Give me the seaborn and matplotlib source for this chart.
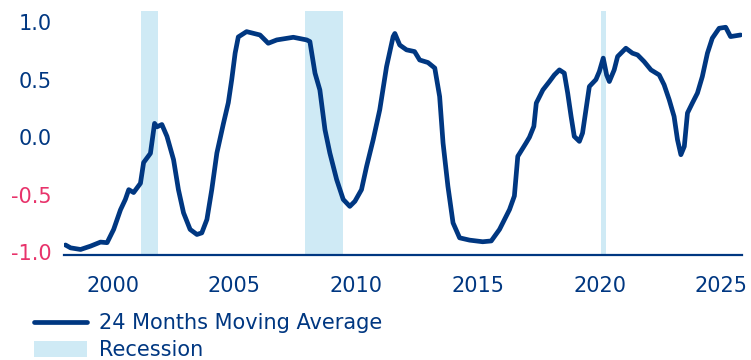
import numpy as np
import pandas as pd
import matplotlib
matplotlib.use("Agg")
import matplotlib.pyplot as plt
import seaborn as sns
from matplotlib.patches import Patch
from matplotlib.lines import Line2D

# decimal years and 24 month moving average values
years = [1998.06, 1998.27, 1998.68, 1999.09, 1999.5, 1999.77, 2000.04, 2000.32, 2000.52, 2000.66,
         2000.86, 2001.14, 2001.27, 2001.55, 2001.72, 2001.82, 2002.02, 2002.23, 2002.5, 2002.7,
         2002.91, 2003.18, 2003.46, 2003.66, 2003.87, 2004.07, 2004.28, 2004.55, 2004.75, 2004.89,
         2005.03, 2005.16, 2005.5, 2006.05, 2006.39, 2006.74, 2007.42, 2007.97, 2008.1, 2008.31,
         2008.51, 2008.72, 2008.92, 2009.2, 2009.47, 2009.74, 2009.95, 2010.22, 2010.43, 2010.7,
         2010.97, 2011.25, 2011.52, 2011.59, 2011.79, 2012.07, 2012.4, 2012.61, 2012.95, 2013.23,
         2013.43, 2013.57, 2013.77, 2013.98, 2014.25, 2014.66, 2015.2, 2015.55, 2015.89, 2016.3,
         2016.5, 2016.64, 2016.98, 2017.12, 2017.3, 2017.4, 2017.67, 2017.94, 2018.14, 2018.35,
         2018.55, 2018.69, 2018.83, 2018.96, 2019.17, 2019.3, 2019.44, 2019.58, 2019.85, 2019.99,
         2020.15, 2020.29, 2020.4, 2020.6, 2020.74, 2021.08, 2021.35, 2021.56, 2021.83, 2022.11,
         2022.45, 2022.65, 2022.86, 2023.06, 2023.2, 2023.34, 2023.48, 2023.61, 2023.81, 2024.02,
         2024.22, 2024.43, 2024.63, 2024.91, 2025.18, 2025.38, 2025.79]
values = [-0.935, -0.96, -0.974, -0.945, -0.91, -0.915, -0.80, -0.63, -0.54, -0.455,
          -0.48, -0.40, -0.22, -0.14, 0.12, 0.09, 0.11, 0.007, -0.195, -0.455,
          -0.656, -0.80, -0.844, -0.83, -0.714, -0.455, -0.137, 0.12, 0.30, 0.50,
          0.73, 0.87, 0.916, 0.887, 0.815, 0.844, 0.867, 0.844, 0.83, 0.556,
          0.41, 0.065, -0.137, -0.368, -0.54, -0.60, -0.556, -0.455, -0.253, -0.022,
          0.238, 0.613, 0.873, 0.90, 0.80, 0.758, 0.743, 0.67, 0.648, 0.60,
          0.353, -0.05, -0.426, -0.743, -0.873, -0.893, -0.907, -0.90, -0.80, -0.628,
          -0.51, -0.166, -0.05, 0.0, 0.094, 0.296, 0.41, 0.483, 0.54, 0.584,
          0.556, 0.383, 0.18, 0.007, -0.036, 0.036, 0.238, 0.44, 0.50, 0.57,
          0.686, 0.54, 0.483, 0.584, 0.70, 0.772, 0.729, 0.714, 0.656, 0.584,
          0.54, 0.455, 0.325, 0.18, -0.022, -0.152, -0.08, 0.21, 0.296, 0.383,
          0.526, 0.729, 0.859, 0.945, 0.954, 0.873, 0.887]

recession_start = [2001.18, 2007.9, 2020.07]
recession_end = [2001.87, 2009.44, 2020.25]

year_ticks = [2000, 2005, 2010, 2015, 2020, 2025]
value_ticks = [-1.0, -0.5, 0.0, 0.5, 1.0]

navy = "#003781"
light_blue = "#cfeaf5"
pink = "#e8336b"

sns.set_style("white")
plt.rcParams['font.family'] = ['DejaVu Sans']

df = pd.DataFrame({"year": years, "value": values})

fig = plt.figure(figsize=(7.51, 3.6), dpi=100)
ax = fig.add_axes([64 / 751, 105 / 360, 678 / 751, 244 / 360])

for s, e in zip(recession_start, recession_end):
    ax.axvspan(s, e, color=light_blue, lw=0, zorder=1)

sns.lineplot(data=df, x="year", y="value", ax=ax, color=navy, lw=3.4, zorder=3)

ax.set_xlim(1998.0, 2025.85)
ax.set_ylim(-1.022, 1.095)
ax.set_xticks(year_ticks)
ax.set_yticks(value_ticks)
ax.set_xticklabels([str(y) for y in year_ticks])
ax.set_yticklabels([f"{v:.1f}" for v in value_ticks])
ax.set_xlabel("")
ax.set_ylabel("")

for sp in ["top", "right", "left"]:
    ax.spines[sp].set_visible(False)
ax.spines["bottom"].set_color(navy)
ax.spines["bottom"].set_linewidth(1.6)

ax.tick_params(axis="x", direction="out", length=8, width=1.8, color=navy,
               labelcolor=navy, labelsize=15, pad=7)
ax.tick_params(axis="y", length=0, labelsize=15, pad=9, labelcolor=navy)
for lab, v in zip(ax.get_yticklabels(), value_ticks):
    lab.set_color(pink if v < 0 else navy)

handles = [Line2D([0], [0], color=navy, lw=3.4),
           Patch(facecolor=light_blue, edgecolor="none")]
labels = ["24 Months Moving Average", "Recession"]
fig.legend(handles, labels, loc="upper left", bbox_to_anchor=(34 / 751, 1 - 313 / 360),
           frameon=False, fontsize=15, labelcolor=navy, handlelength=2.55,
           handleheight=0.75, handletextpad=0.55, labelspacing=0.35, borderpad=0,
           borderaxespad=0)

fig.savefig("out.png", dpi=100)
